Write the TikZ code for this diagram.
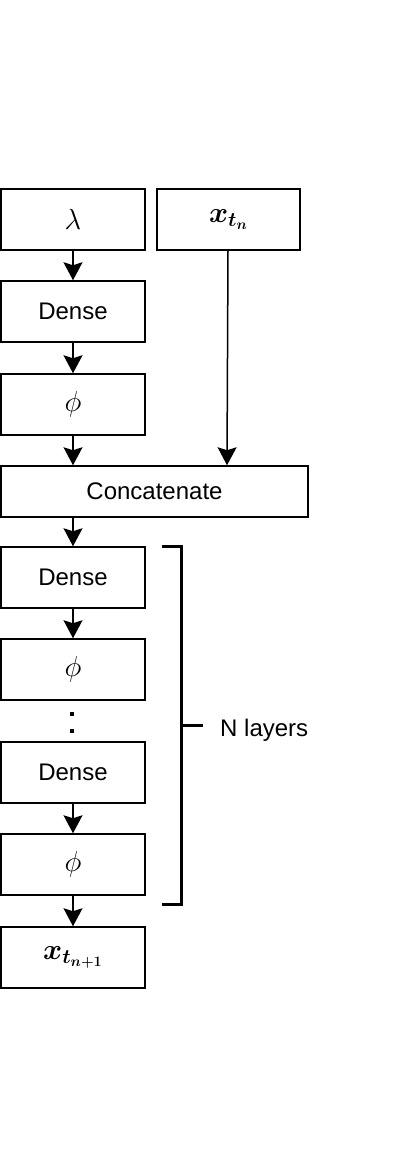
\RequirePackage{fix-cm}
\documentclass[tikz,border=0pt]{standalone}
\usepackage{amsmath}
\usepackage{fontspec}
\setmainfont{Liberation Sans}
\usetikzlibrary{arrows.meta}
\begin{document}
\begin{tikzpicture}[x=1pt,y=-1pt,
  box/.style={draw, line width=1.5pt, minimum width=144pt, minimum height=61pt, inner sep=0pt, font=\fontsize{24}{28}\selectfont},
  mbox/.style={box, font=\fontsize{29}{34}\selectfont},
  arr/.style={-{Stealth[length=18pt,width=19pt,inset=3pt]}, line width=1.5pt},
  brk/.style={line width=3pt}]
\useasboundingbox (0,0) rectangle (410,1175);
\node[mbox] (lam) at (73,219.5) {$\lambda$};
\node[mbox, minimum width=143pt] (xt) at (228.5,219.5) {$\boldsymbol{x_{t_n}}$};
\node[box] (d1) at (73,311.5) {Dense};
\node[mbox] (p1) at (73,404.5) {$\phi$};
\node[box, minimum width=307pt, minimum height=51pt] (cat) at (154.5,491.5) {Concatenate};
\node[box] (d2) at (73,577.5) {Dense};
\node[mbox] (p2) at (73,669.5) {$\phi$};
\node[box] (d3) at (73,772.5) {Dense};
\node[mbox] (p3) at (73,864.5) {$\phi$};
\node[mbox] (out) at (73,957.5) {$\boldsymbol{x_{t_{n+1}}}$};
\draw[arr] (lam.south) -- (d1.north);
\draw[arr] (d1.south) -- (p1.north);
\draw[arr] (p1.south) -- (p1.south |- cat.north);
\draw[arr] ([xshift=-0.5pt]xt.south) -- ([xshift=-1.5pt]xt.south |- cat.north);
\draw[arr] (d2.south |- cat.south) -- (d2.north);
\draw[arr] (d2.south) -- (p2.north);
\draw[arr] (d3.south) -- (p3.north);
\draw[arr] (p3.south) -- (out.north);
\fill (70,712) rectangle (74,716);
\fill (70,729) rectangle (74,733);
\draw[brk] (162,546) -- (181,546) -- (181,904) -- (162,904);
\coordinate (tick) at (181,725);
\draw[brk] (tick) -- ++(22,0);
\node[anchor=west, inner sep=0pt, font=\fontsize{24}{28}\selectfont] (lbl) at (220,730) {N layers};
\end{tikzpicture}
\end{document}
